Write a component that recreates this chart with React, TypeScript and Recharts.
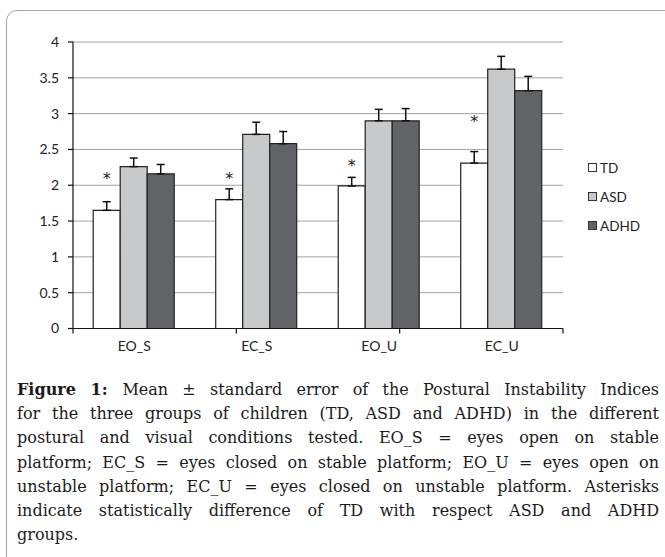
import React from "react";
import {
  BarChart,
  Bar,
  XAxis,
  YAxis,
  CartesianGrid,
  Legend,
  ErrorBar,
  LabelList,
} from "recharts";

const categories = ["EO_S", "EC_S", "EO_U", "EC_U"];
const tdValues = [1.65, 1.8, 1.99, 2.31];
const tdErrors = [0.12, 0.15, 0.12, 0.16];
const asdValues = [2.26, 2.71, 2.9, 3.62];
const asdErrors = [0.12, 0.17, 0.16, 0.18];
const adhdValues = [2.16, 2.58, 2.9, 3.32];
const adhdErrors = [0.13, 0.17, 0.17, 0.2];
const asteriskLevels = [2.14, 2.14, 2.33, 2.94];
const yTicks = [0, 0.5, 1, 1.5, 2, 2.5, 3, 3.5, 4];
const boundaryTicks = [0, 1, 2, 3, 4];

const seriesNames = ["TD", "ASD", "ADHD"];
const seriesColors = ["#ffffff", "#c8c9cb", "#626367"];

const captionLines = [
  "Mean ± standard error of the Postural Instability Indices",
  "for the three groups of children (TD, ASD and ADHD) in the different",
  "postural and visual conditions tested. EO_S = eyes open on stable",
  "platform; EC_S = eyes closed on stable platform; EO_U = eyes open on",
  "unstable platform; EC_U = eyes closed on unstable platform. Asterisks",
  "indicate statistically difference of TD with respect ASD and ADHD",
  "groups.",
];

const data = categories.map((c, i) => ({
  cat: c,
  TD: tdValues[i],
  tdErr: [0, tdErrors[i]],
  ASD: asdValues[i],
  asdErr: [0, asdErrors[i]],
  ADHD: adhdValues[i],
  adhdErr: [0, adhdErrors[i]],
  star: asteriskLevels[i],
}));

const FONT = "Lato, 'Open Sans', sans-serif";

const StarLabel = (props: any) => {
  const { x, y, width, height, index } = props;
  const v = tdValues[index];
  const level = asteriskLevels[index];
  const bottom = y + height;
  const perUnit = height / v;
  const yc = bottom - level * perUnit;
  return (
    <text
      x={x + width / 2}
      y={yc + 9}
      textAnchor="middle"
      fontFamily="'DejaVu Sans', sans-serif"
      fontSize={16}
      fill="#222"
    >
      *
    </text>
  );
};

const LegendContent = () => (
  <div style={{ width: 80, fontFamily: FONT, fontSize: 13.5, color: "#222" }}>
    {seriesNames.map((n, i) => (
      <div key={n} style={{ height: 29, display: "flex", alignItems: "center", paddingLeft: 25 }}>
        <span
          style={{
            display: "inline-block",
            width: 7,
            height: 7,
            background: seriesColors[i],
            border: "1px solid #333",
            marginRight: 3,
          }}
        />
        <span>{n}</span>
      </div>
    ))}
  </div>
);

export default function App() {
  return (
    <div
      style={{
        position: "absolute",
        left: 0,
        top: 0,
        width: 665,
        height: 557,
        overflow: "hidden",
        background: "#fff",
      }}
    >
      <div
        style={{
          position: "absolute",
          left: 6,
          top: 10,
          width: 720,
          height: 620,
          border: "1px solid #a5a5a5",
          borderRadius: 11,
        }}
      />
      <div style={{ position: "absolute", left: 0, top: 0 }}>
        <BarChart
          width={665}
          height={370}
          data={data}
          margin={{ top: 42, right: 22, left: 13, bottom: 10.5 }}
          barCategoryGap="16.5%"
          barGap={0}
        >
          <CartesianGrid vertical={false} stroke="#a3a3a3" strokeWidth={1} xAxisId="cat" />
          <XAxis
            xAxisId="bounds"
            type="number"
            domain={[0, 4]}
            ticks={boundaryTicks}
            height={1}
            axisLine={{ stroke: "#111", strokeWidth: 1.2 }}
            tickFormatter={() => ""}
            tickSize={5}
            tickLine={{ stroke: "#111", strokeWidth: 1.2 }}
            interval={0}
            allowDataOverflow
          />
          <XAxis
            xAxisId="cat"
            dataKey="cat"
            height={30}
            axisLine={false}
            tickLine={false}
            tickSize={0}
            tickMargin={12}
            interval={0}
            tick={{ fontFamily: FONT, fontSize: 14, fill: "#222" }}
          />
          <YAxis
            domain={[0, 4]}
            ticks={yTicks}
            width={60}
            axisLine={{ stroke: "#111", strokeWidth: 1.2 }}
            tickLine={{ stroke: "#111", strokeWidth: 1.2 }}
            tickSize={5}
            tickMargin={9}
            tick={{ fontFamily: FONT, fontSize: 14, fill: "#222" }}
            interval={0}
          />
          <Legend
            layout="vertical"
            align="right"
            verticalAlign="top"
            wrapperStyle={{ top: 153 }}
            content={<LegendContent />}
          />
          <Bar xAxisId="cat" dataKey="TD" fill={seriesColors[0]} stroke="#222" strokeWidth={1.2} isAnimationActive={false}>
            <ErrorBar dataKey="tdErr" width={4} stroke="#111" strokeWidth={1.5} direction="y" />
            <LabelList dataKey="TD" content={<StarLabel />} />
          </Bar>
          <Bar xAxisId="cat" dataKey="ASD" fill={seriesColors[1]} stroke="#222" strokeWidth={1.2} isAnimationActive={false}>
            <ErrorBar dataKey="asdErr" width={4} stroke="#111" strokeWidth={1.5} direction="y" />
          </Bar>
          <Bar xAxisId="cat" dataKey="ADHD" fill={seriesColors[2]} stroke="#222" strokeWidth={1.2} isAnimationActive={false}>
            <ErrorBar dataKey="adhdErr" width={4} stroke="#111" strokeWidth={1.5} direction="y" />
          </Bar>
        </BarChart>
      </div>
      <div
        style={{
          position: "absolute",
          left: 17,
          top: 378,
          width: 642,
          fontFamily: "'DejaVu Serif', serif",
          fontSize: 16,
          lineHeight: "24.2px",
          color: "#1a1a1a",
        }}
      >
        {captionLines.map((line, i) => (
          <div
            key={i}
            style={{
              textAlign: i < captionLines.length - 1 ? "justify" : "left",
              textAlignLast: i < captionLines.length - 1 ? "justify" : "left",
              whiteSpace: "nowrap",
            }}
          >
            {i === 0 ? <b>Figure 1: </b> : null}
            {line}
          </div>
        ))}
      </div>
    </div>
  );
}
